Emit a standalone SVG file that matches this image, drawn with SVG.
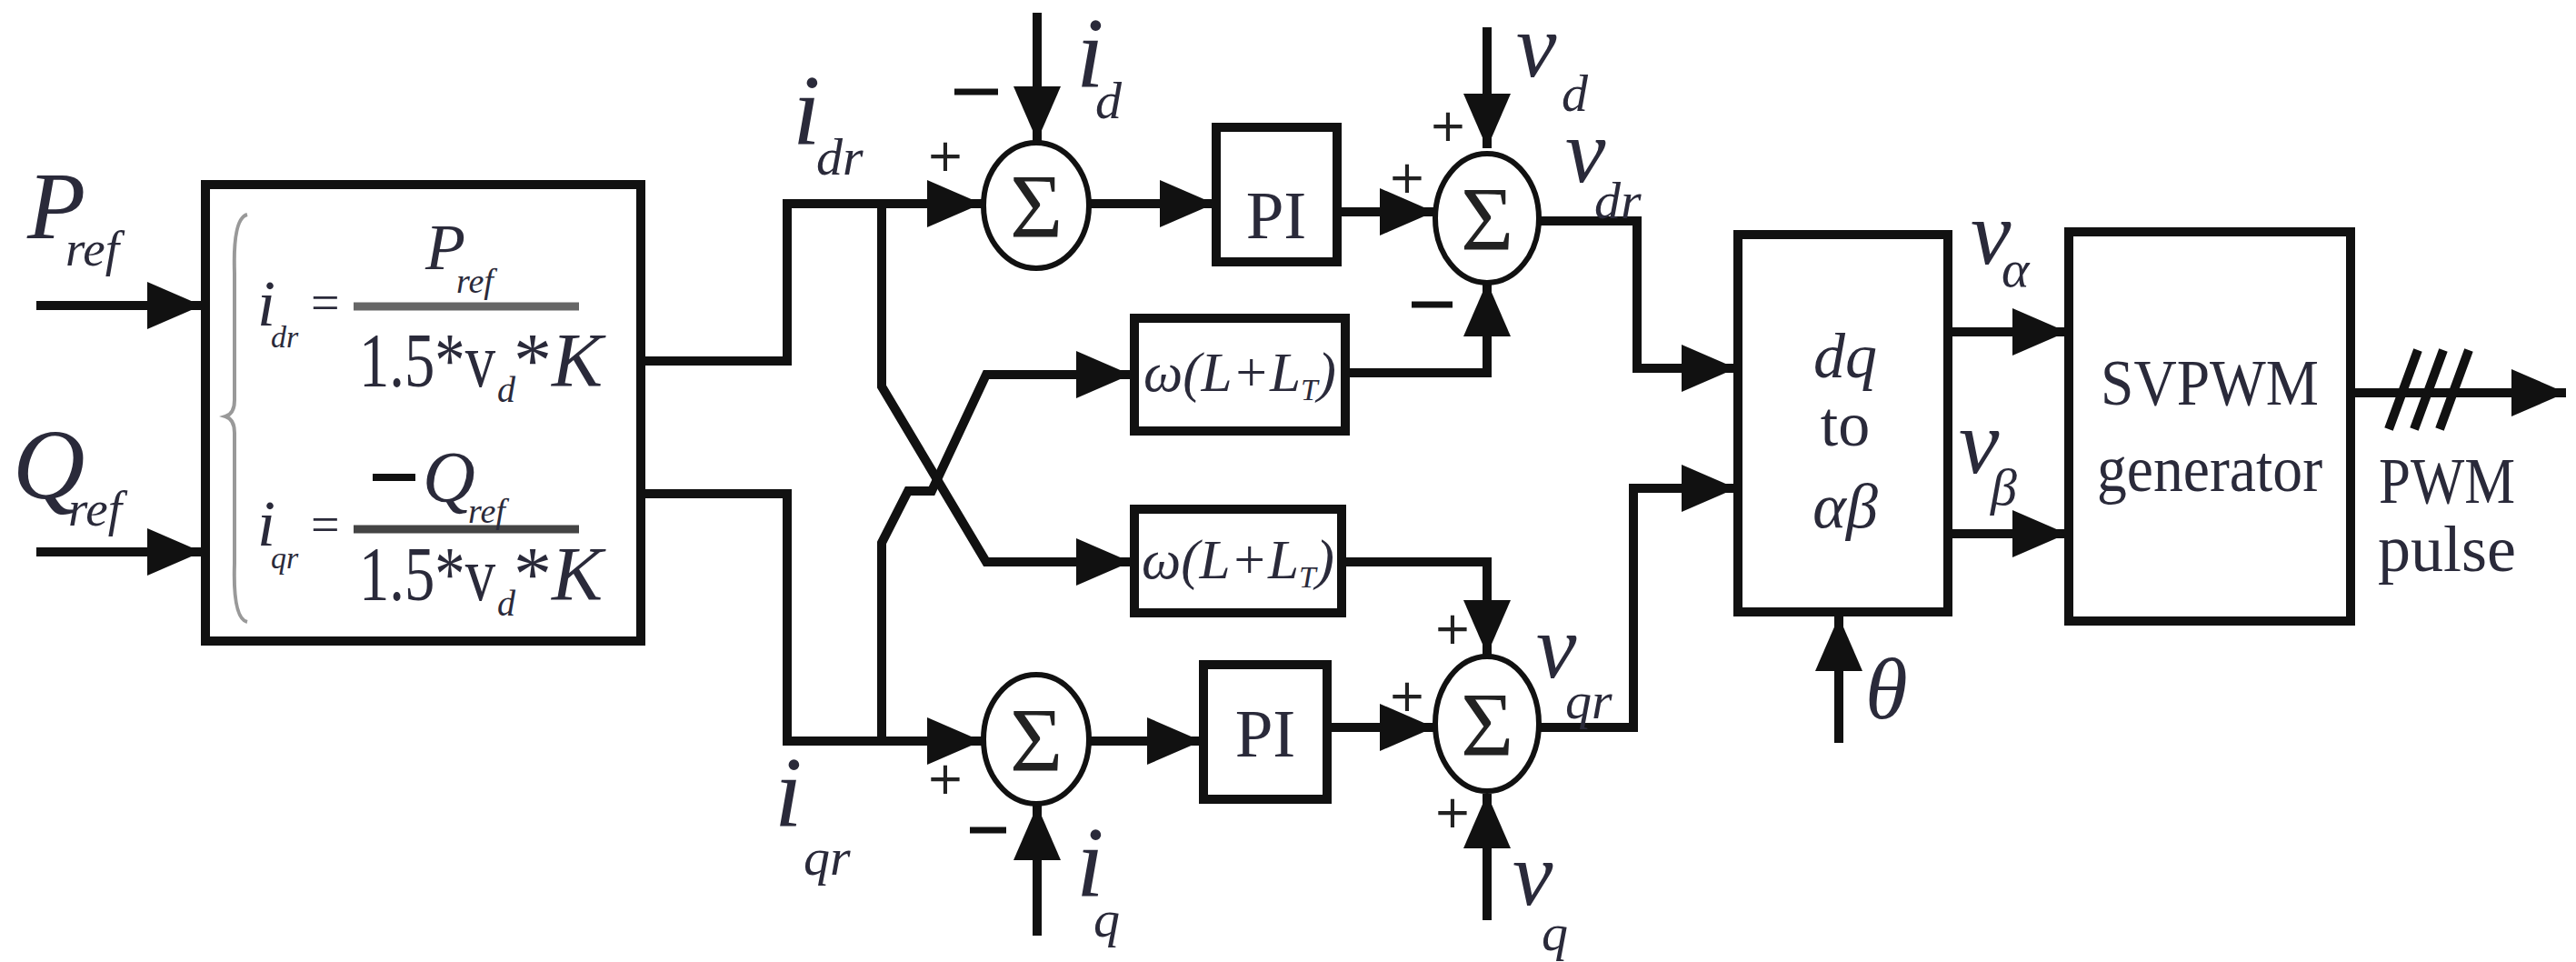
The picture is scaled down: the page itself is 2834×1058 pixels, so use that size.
<svg xmlns="http://www.w3.org/2000/svg" width="2834" height="1058" viewBox="0 0 2834 1058">
<defs>
<marker id="ar" markerUnits="userSpaceOnUse" markerWidth="62" markerHeight="52" refX="60" refY="26" orient="auto"><path d="M0,0 L60,26 L0,52 z" fill="#111"/></marker>
</defs>
<style>
.blk{fill:#fff;stroke:#111;stroke-width:10}
.sum{fill:#fff;stroke:#111;stroke-width:6}
.ln{fill:none;stroke:#111;stroke-width:10}
.t{font-family:"Liberation Serif",serif;fill:#2a2a3a}
.it{font-style:italic}
.sg{font-family:"Liberation Serif",serif;fill:#222;font-size:100px;text-anchor:middle}
.pm{font-family:"DejaVu Sans",sans-serif;fill:#222;font-size:50px;text-anchor:middle}
</style>
<rect width="2834" height="1058" fill="#fff"/>
<g id="connectors">
<line class="ln" x1="40" y1="336" x2="222" y2="336" marker-end="url(#ar)"/>
<line class="ln" x1="40" y1="607" x2="222" y2="607" marker-end="url(#ar)"/>
<polyline class="ln" points="705,397 866,397 866,224 1080,224" marker-end="url(#ar)"/>
<polyline class="ln" points="705,543 866,543 866,815 1080,815" marker-end="url(#ar)"/>
<polyline class="ln" points="970,224 970,425 1085,618 1244,618" marker-end="url(#ar)"/>
<polyline class="ln" points="970,815 970,597 999,540 1025,540 1085,412 1244,412" marker-end="url(#ar)"/>
<line class="ln" x1="1141" y1="14" x2="1141" y2="155" marker-end="url(#ar)"/>
<line class="ln" x1="1141" y1="1029" x2="1141" y2="886" marker-end="url(#ar)"/>
<line class="ln" x1="1198" y1="224" x2="1336" y2="224" marker-end="url(#ar)"/>
<line class="ln" x1="1198" y1="815" x2="1322" y2="815" marker-end="url(#ar)"/>
<line class="ln" x1="1471" y1="233" x2="1578" y2="233" marker-end="url(#ar)"/>
<line class="ln" x1="1460" y1="800" x2="1578" y2="800" marker-end="url(#ar)"/>
<line class="ln" x1="1636" y1="30" x2="1636" y2="163" marker-end="url(#ar)"/>
<polyline class="ln" points="1480,410 1636,410 1636,310" marker-end="url(#ar)"/>
<polyline class="ln" points="1480,618 1636,618 1636,720" marker-end="url(#ar)"/>
<line class="ln" x1="1636" y1="1012" x2="1636" y2="873" marker-end="url(#ar)"/>
<polyline class="ln" points="1693,243 1801,243 1801,405 1910,405" marker-end="url(#ar)"/>
<polyline class="ln" points="1693,800 1797,800 1797,537 1910,537" marker-end="url(#ar)"/>
<line class="ln" x1="2023" y1="817" x2="2023" y2="678" marker-end="url(#ar)"/>
<line class="ln" x1="2143" y1="365" x2="2274" y2="365" marker-end="url(#ar)"/>
<line class="ln" x1="2143" y1="587" x2="2274" y2="587" marker-end="url(#ar)"/>
<line class="ln" x1="2586" y1="432" x2="2823" y2="432" marker-end="url(#ar)"/>
<path class="ln" stroke-width="7" d="M2628,472 L2660,385 M2656,472 L2688,385 M2684,472 L2716,385"/>
</g>
<g id="inputs">
<text class="t it" x="30" y="262" font-size="105">P</text>
<text class="t it" x="72" y="292" font-size="55">ref</text>
<text class="t it" x="14" y="548" font-size="110">Q</text>
<text class="t it" x="75" y="578" font-size="55">ref</text>
</g>
<g id="calc">
<rect class="blk" x="226" y="203" width="479" height="502"/>
<path d="M272,236 Q256,240 258,300 L258,440 Q258,455 248,458 Q258,461 258,476 L258,620 Q256,680 272,684" fill="none" stroke="#999" stroke-width="4"/>
<text class="t it" x="283" y="358" font-size="72">i</text>
<text class="t it" x="298" y="382" font-size="34">dr</text>
<text class="t" x="342" y="352" font-size="56" fill="#999">=</text>
<line x1="389" y1="337" x2="637" y2="337" stroke="#666" stroke-width="9"/>
<text class="t it" x="468" y="296" font-size="72">P</text>
<text class="t it" x="502" y="322" font-size="38">ref</text>
<text class="t" x="395" y="425" font-size="84" textLength="150" lengthAdjust="spacingAndGlyphs">1.5*v</text>
<text class="t it" x="547" y="442" font-size="40">d</text>
<text class="t" x="565" y="425" font-size="84">*<tspan font-style="italic">K</tspan></text>
<text class="t it" x="283" y="600" font-size="72">i</text>
<text class="t it" x="298" y="625" font-size="34">qr</text>
<text class="t" x="342" y="596" font-size="56" fill="#999">=</text>
<line x1="389" y1="582" x2="637" y2="582" stroke="#444" stroke-width="9"/>
<line x1="410" y1="525" x2="457" y2="525" stroke="#111" stroke-width="8"/>
<text class="t it" x="465" y="552" font-size="80">Q</text>
<text class="t it" x="515" y="575" font-size="38">ref</text>
<text class="t" x="395" y="660" font-size="84" textLength="150" lengthAdjust="spacingAndGlyphs">1.5*v</text>
<text class="t it" x="547" y="677" font-size="40">d</text>
<text class="t" x="565" y="660" font-size="84">*<tspan font-style="italic">K</tspan></text>
</g>
<g id="labels">
<text class="t it" x="872" y="158" font-size="110">i</text>
<text class="t it" x="898" y="192" font-size="58">dr</text>
<text class="t it" x="852" y="908" font-size="110">i</text>
<text class="t it" x="884" y="962" font-size="58">qr</text>
<text class="t it" x="1184" y="95" font-size="110">i</text>
<text class="t it" x="1205" y="130" font-size="58">d</text>
<text class="t it" x="1184" y="985" font-size="110">i</text>
<text class="t it" x="1203" y="1030" font-size="58">q</text>
<text class="t it" x="1668" y="84" font-size="100">v</text>
<text class="t it" x="1718" y="122" font-size="58">d</text>
<text class="t it" x="1722" y="200" font-size="100">v</text>
<text class="t it" x="1754" y="240" font-size="58">dr</text>
<text class="t it" x="1690" y="745" font-size="100">v</text>
<text class="t it" x="1722" y="790" font-size="58">qr</text>
<text class="t it" x="1664" y="995" font-size="100">v</text>
<text class="t it" x="1696" y="1045" font-size="58">q</text>
<text class="t it" x="2168" y="290" font-size="100">v</text>
<text class="t it" x="2202" y="315" font-size="58">α</text>
<text class="t it" x="2155" y="520" font-size="100">v</text>
<text class="t it" x="2190" y="555" font-size="58">β</text>
<text class="t it" x="2052" y="790" font-size="95">θ</text>
</g>
<g id="sum1">
<ellipse class="sum" cx="1140" cy="226" rx="58" ry="69"/>
<text class="sg" x="1140" y="260">Σ</text>
<text class="pm" x="1040" y="188">+</text>
<line x1="1050" y1="101" x2="1098" y2="101" stroke="#111" stroke-width="7"/>
</g>
<g id="sum2">
<ellipse class="sum" cx="1140" cy="813" rx="58" ry="71"/>
<text class="sg" x="1140" y="847">Σ</text>
<text class="pm" x="1040" y="873">+</text>
<line x1="1067" y1="913" x2="1107" y2="913" stroke="#111" stroke-width="7"/>
</g>
<g id="pi1">
<rect class="blk" x="1338" y="140" width="133" height="148" stroke-width="8"/>
<text class="t" x="1404" y="262" font-size="75" text-anchor="middle">PI</text>
</g>
<g id="pi2">
<rect class="blk" x="1324" y="731" width="136" height="148" stroke-width="8"/>
<text class="t" x="1392" y="832" font-size="75" text-anchor="middle">PI</text>
</g>
<g id="omega1">
<rect class="blk" x="1248" y="350" width="232" height="124" stroke-width="8"/>
<text class="t it" x="1258" y="430" font-size="62" textLength="212" lengthAdjust="spacingAndGlyphs">ω(L+L<tspan font-size="34" dy="10">T</tspan><tspan dy="-10">)</tspan></text>
</g>
<g id="omega2">
<rect class="blk" x="1248" y="560" width="228" height="114" stroke-width="8"/>
<text class="t it" x="1256" y="636" font-size="62" textLength="212" lengthAdjust="spacingAndGlyphs">ω(L+L<tspan font-size="34" dy="10">T</tspan><tspan dy="-10">)</tspan></text>
</g>
<g id="sum3">
<ellipse class="sum" cx="1636" cy="240" rx="57" ry="71"/>
<text class="sg" x="1636" y="274">Σ</text>
<text class="pm" x="1593" y="155">+</text>
<text class="pm" x="1548" y="212">+</text>
<line x1="1553" y1="335" x2="1598" y2="335" stroke="#111" stroke-width="7"/>
</g>
<g id="sum4">
<ellipse class="sum" cx="1636" cy="796" rx="57" ry="74"/>
<text class="sg" x="1636" y="830">Σ</text>
<text class="pm" x="1598" y="708">+</text>
<text class="pm" x="1548" y="782">+</text>
<text class="pm" x="1598" y="910">+</text>
</g>
<g id="dq">
<rect class="blk" x="1912" y="258" width="231" height="415"/>
<text class="t it" x="2030" y="415" font-size="70" text-anchor="middle">dq</text>
<text class="t" x="2030" y="490" font-size="70" text-anchor="middle">to</text>
<text class="t it" x="2030" y="580" font-size="70" text-anchor="middle">αβ</text>
</g>
<g id="svpwm">
<rect class="blk" x="2276" y="255" width="310" height="428"/>
<text class="t" x="2431" y="445" font-size="72" text-anchor="middle" textLength="240" lengthAdjust="spacingAndGlyphs">SVPWM</text>
<text class="t" x="2431" y="540" font-size="72" text-anchor="middle" textLength="248" lengthAdjust="spacingAndGlyphs">generator</text>
</g>
<g id="pwm">
<text class="t" x="2692" y="553" font-size="72" text-anchor="middle" textLength="150" lengthAdjust="spacingAndGlyphs">PWM</text>
<text class="t" x="2692" y="628" font-size="72" text-anchor="middle">pulse</text>
</g>
</svg>
